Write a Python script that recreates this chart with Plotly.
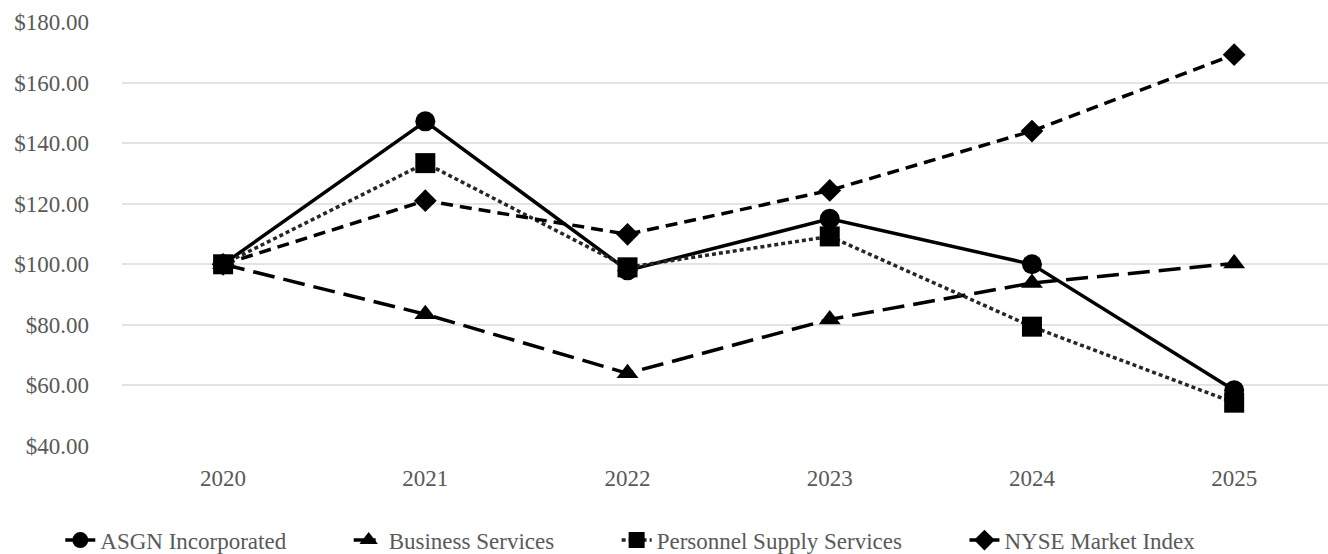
import plotly.graph_objects as go

years = ["2020", "2021", "2022", "2023", "2024", "2025"]
asgn = [100.0, 147.2, 98.0, 115.0, 100.0, 58.4]
business = [100.0, 83.5, 64.0, 81.8, 93.8, 100.3]
personnel = [100.0, 133.4, 99.0, 109.2, 79.4, 54.3]
nyse = [100.0, 121.0, 109.9, 124.4, 144.0, 169.2]
y_ticks = [40, 60, 80, 100, 120, 140, 160, 180]
names = ["ASGN Incorporated", "Business Services", "Personnel Supply Services", "NYSE Market Index"]

FONT = "Liberation Serif, Times New Roman, serif"
GRAY = "#595959"
PAD = "\u00a0" * 10

fig = go.Figure()

series = [
    (names[0], asgn, "solid", "circle", 20, "#000000"),
    (names[1], business, "22px,9px", "triangle-up", 19, "#000000"),
    (names[2], personnel, "4px,3px", "square", 20, "#262626"),
    (names[3], nyse, "12px,7px", "diamond", 17.5, "#000000"),
]

for i, (name, vals, dash, sym, size, col) in enumerate(series):
    label = name + (PAD if i < len(series) - 1 else "")
    fig.add_trace(go.Scatter(
        x=years, y=vals, name=label, mode="lines+markers",
        line=dict(color=col, width=3.5, dash=dash),
        marker=dict(symbol=sym, size=size, color="#000000", line=dict(width=0)),
        cliponaxis=False,
    ))

fig.update_layout(
    width=1328, height=554,
    margin=dict(l=122, r=0, t=22, b=108),
    plot_bgcolor="white", paper_bgcolor="white",
    font=dict(family=FONT, size=23, color=GRAY),
    showlegend=True,
    legend=dict(
        orientation="h", xref="container", yref="container",
        x=0.475, xanchor="center", y=0.025, yanchor="middle",
        font=dict(family=FONT, size=23, color=GRAY),
        itemwidth=30, tracegroupgap=0,
    ),
    xaxis=dict(
        type="category", range=[-0.5, 5.464],
        showgrid=False, showline=False, zeroline=False,
        ticks="", ticklabelstandoff=16,
        tickfont=dict(family=FONT, size=23, color=GRAY),
    ),
    yaxis=dict(
        range=[40, 180], tickvals=y_ticks, tickformat="$,.2f",
        showgrid=True, gridcolor="#e3e3e3", gridwidth=2,
        showline=False, zeroline=False,
        ticks="", ticklabelstandoff=32,
        tickfont=dict(family=FONT, size=23, color=GRAY),
    ),
)

fig.write_html("out.html")
